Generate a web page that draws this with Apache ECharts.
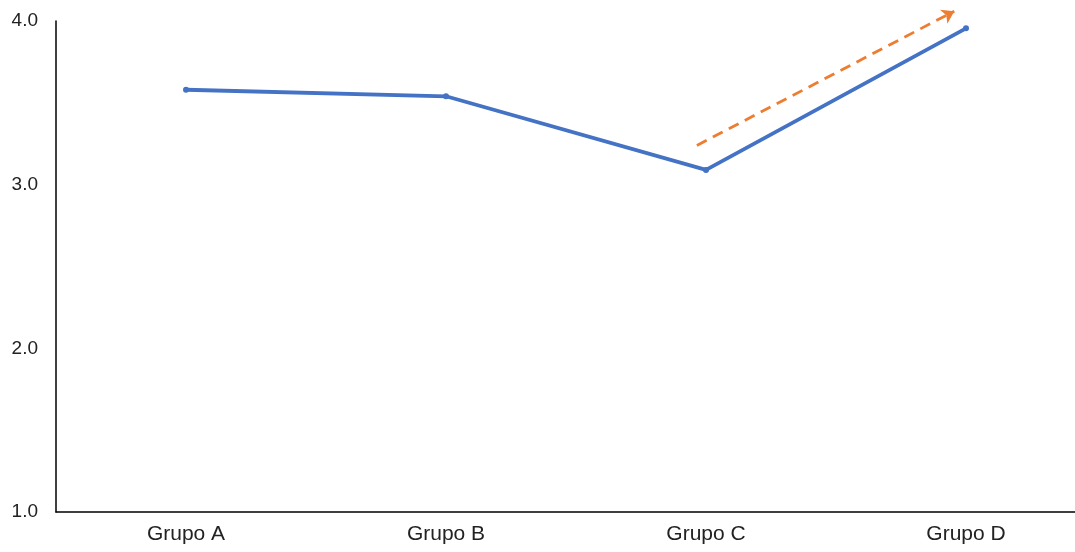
<!DOCTYPE html>
<html>
<head>
<meta charset="utf-8">
<script src="https://cdn.jsdelivr.net/npm/echarts@6/dist/echarts.min.js"></script>
<style>
  html, body { margin: 0; padding: 0; background: #fff; }
  #chart { width: 1075px; height: 552px; }
</style>
</head>
<body>
<div id="chart"></div>
<script>
// datos
var categories = ['Grupo A', 'Grupo B', 'Grupo C', 'Grupo D'];
var values = [3.58, 3.54, 3.09, 3.955];
// flecha de tendencia (eje x continuo oculto, 0..4)
var trendX = [2.465, 3.455];
var trendY = [3.24, 4.06];

var chart = echarts.init(document.getElementById('chart'));

function buildOption(arrowRotate) {
  return {
    animation: false,
    grid: { left: 56, top: 21, width: 1040, height: 491, outerBoundsMode: 'none', containLabel: false },
    xAxis: [
      {
        type: 'category',
        data: categories,
        boundaryGap: true,
        axisLine: { show: true, lineStyle: { color: '#000', width: 1.5 } },
        axisTick: { show: false },
        axisLabel: { color: '#222', fontSize: 21, fontFamily: 'Liberation Sans', margin: 12 }
      },
      {
        type: 'value',
        min: 0,
        max: 4,
        position: 'top',
        axisLine: { show: false },
        axisTick: { show: false },
        axisLabel: { show: false },
        splitLine: { show: false }
      }
    ],
    yAxis: {
      type: 'value',
      min: 1,
      max: 4,
      interval: 1,
      splitLine: { show: false },
      axisLine: { show: true, lineStyle: { color: '#000', width: 1.5 } },
      axisTick: { show: false },
      axisLabel: {
        color: '#222',
        fontSize: 19,
        fontFamily: 'Liberation Sans',
        margin: 18,
        formatter: function (v) { return v.toFixed(1); }
      }
    },
    series: [
      {
        type: 'line',
        data: values,
        symbol: 'circle',
        symbolSize: 6,
        itemStyle: { color: '#4472C4' },
        lineStyle: { color: '#4472C4', width: 3.8 },
        z: 3
      },
      {
        type: 'line',
        xAxisIndex: 1,
        yAxisIndex: 0,
        symbol: 'none',
        showAllSymbol: true,
        clip: false,
        itemStyle: { color: '#ED7D31' },
        lineStyle: { color: '#ED7D31', width: 2.8, type: [11, 7] },
        data: [
          [trendX[0], trendY[0]],
          {
            value: [trendX[1], trendY[1]],
            symbol: 'arrow',
            symbolSize: [12, 12],
            symbolRotate: arrowRotate
          }
        ],
        z: 2
      }
    ]
  };
}

chart.setOption(buildOption(0));
// orientar la punta de flecha según la pendiente en pantalla
var p0 = chart.convertToPixel({ xAxisIndex: 1, yAxisIndex: 0 }, [trendX[0], trendY[0]]);
var p1 = chart.convertToPixel({ xAxisIndex: 1, yAxisIndex: 0 }, [trendX[1], trendY[1]]);
var ang = Math.atan2(p0[1] - p1[1], p1[0] - p0[0]) * 180 / Math.PI;
chart.setOption(buildOption(ang - 90));
</script>
</body>
</html>
